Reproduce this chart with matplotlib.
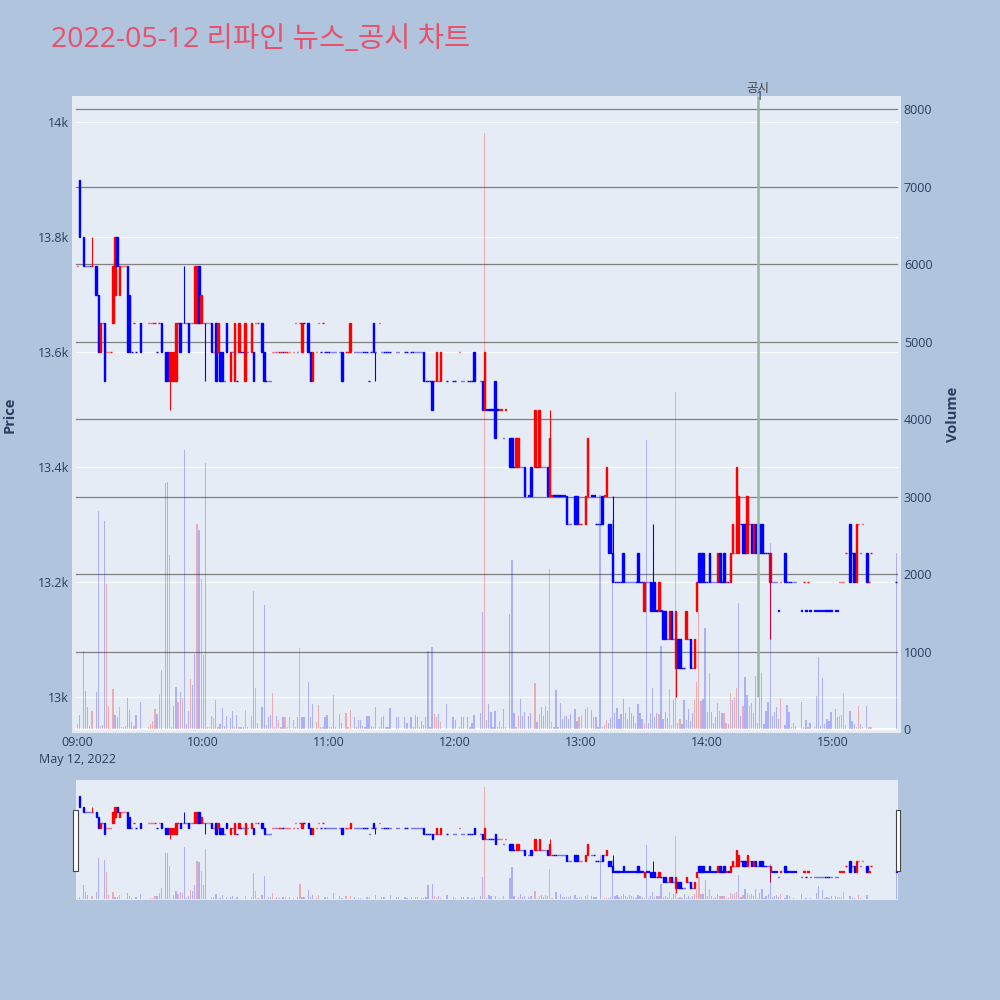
import numpy as np
import pandas as pd
import matplotlib
matplotlib.use("Agg")
import matplotlib.pyplot as plt
import matplotlib.dates as mdates
import matplotlib.transforms as mtransforms
from matplotlib.patches import Rectangle

# ---------------- data ----------------
TITLE = "2022-05-12 리파인 뉴스_공시 차트"
DAY_START = "2022-05-12 09:00"

# minutes after 09:00 for each one-minute candle
minute = [
    0, 1, 3, 4, 5, 6, 7, 9, 10, 11,
    12, 13, 14, 15, 16, 17, 18, 19, 20, 21,
    22, 23, 24, 25, 26, 27, 28, 30, 34, 35,
    36, 37, 38, 39, 40, 42, 43, 44, 45, 46,
    47, 48, 49, 50, 51, 52, 53, 54, 55, 56,
    57, 58, 59, 60, 61, 62, 63, 64, 65, 66,
    67, 68, 69, 70, 71, 73, 74, 75, 76, 77,
    78, 79, 80, 81, 83, 84, 85, 86, 88, 89,
    90, 91, 92, 93, 94, 95, 96, 97, 98, 99,
    100, 101, 103, 104, 105, 106, 107, 108, 110, 111,
    112, 114, 115, 116, 117, 118, 119, 120, 121, 122,
    123, 125, 126, 128, 129, 130, 132, 133, 134, 135,
    136, 137, 138, 139, 140, 141, 142, 144, 145, 146,
    147, 148, 149, 152, 153, 156, 157, 159, 160, 161,
    162, 163, 164, 165, 166, 167, 168, 169, 170, 171,
    172, 173, 176, 179, 180, 182, 183, 184, 186, 187,
    188, 189, 192, 193, 194, 195, 196, 197, 198, 199,
    200, 201, 202, 203, 204, 206, 207, 208, 209, 210,
    211, 212, 213, 215, 216, 218, 219, 220, 221, 222,
    223, 224, 225, 226, 227, 228, 229, 230, 231, 232,
    233, 234, 235, 237, 238, 239, 240, 242, 243, 245,
    246, 247, 248, 249, 250, 251, 252, 253, 254, 255,
    256, 257, 258, 259, 260, 261, 262, 263, 264, 265,
    266, 267, 268, 269, 270, 271, 272, 273, 274, 275,
    276, 277, 278, 279, 280, 281, 282, 283, 284, 285,
    286, 287, 288, 289, 290, 291, 292, 293, 294, 295,
    296, 297, 298, 299, 300, 301, 302, 303, 304, 305,
    306, 307, 308, 309, 310, 311, 312, 313, 314, 315,
    316, 317, 318, 319, 320, 321, 322, 323, 324, 325,
    326, 327, 328, 329, 330, 331, 332, 333, 334, 335,
    337, 338, 339, 340, 341, 342, 345, 346, 347, 348,
    349, 351, 352, 353, 354, 355, 356, 357, 358, 359,
    361, 362, 363, 364, 365, 366, 368, 369, 370, 371,
    372, 373, 374, 376, 377, 378, 390,
]

open_ = [
    13750, 13900, 13800, 13750, 13750, 13750, 13750, 13750, 13700, 13600,
    13650, 13650, 13600, 13600, 13600, 13650, 13700, 13800, 13700, 13750,
    13750, 13750, 13750, 13700, 13600, 13650, 13600, 13650, 13650, 13650,
    13650, 13650, 13600, 13650, 13650, 13600, 13600, 13550, 13550, 13550,
    13550, 13650, 13650, 13650, 13650, 13650, 13650, 13650, 13650, 13650,
    13650, 13750, 13650, 13650, 13650, 13650, 13650, 13650, 13600, 13650,
    13600, 13600, 13600, 13550, 13650, 13550, 13600, 13550, 13550, 13600,
    13600, 13600, 13550, 13600, 13600, 13600, 13650, 13650, 13650, 13600,
    13550, 13550, 13550, 13600, 13600, 13600, 13600, 13600, 13600, 13600,
    13600, 13600, 13600, 13650, 13600, 13650, 13600, 13650, 13650, 13600,
    13550, 13600, 13650, 13600, 13650, 13600, 13600, 13600, 13600, 13600,
    13600, 13600, 13600, 13600, 13600, 13600, 13600, 13600, 13600, 13600,
    13600, 13600, 13600, 13550, 13600, 13650, 13600, 13650, 13600, 13600,
    13600, 13600, 13600, 13600, 13600, 13600, 13600, 13600, 13600, 13600,
    13600, 13600, 13600, 13600, 13550, 13550, 13550, 13550, 13550, 13550,
    13550, 13550, 13550, 13550, 13550, 13600, 13550, 13550, 13550, 13550,
    13550, 13600, 13550, 13550, 13500, 13500, 13500, 13500, 13500, 13550,
    13500, 13500, 13500, 13450, 13500, 13450, 13450, 13400, 13400, 13400,
    13400, 13400, 13400, 13350, 13400, 13400, 13400, 13400, 13400, 13400,
    13400, 13400, 13350, 13350, 13350, 13350, 13350, 13350, 13350, 13350,
    13350, 13300, 13300, 13350, 13350, 13300, 13300, 13300, 13350, 13350,
    13350, 13300, 13300, 13300, 13350, 13350, 13350, 13300, 13300, 13250,
    13200, 13200, 13200, 13200, 13250, 13200, 13200, 13200, 13200, 13200,
    13200, 13250, 13200, 13200, 13150, 13200, 13200, 13200, 13200, 13200,
    13150, 13150, 13150, 13150, 13150, 13100, 13100, 13150, 13100, 13050,
    13100, 13100, 13050, 13050, 13100, 13100, 13100, 13050, 13050, 13150,
    13250, 13250, 13250, 13200, 13200, 13250, 13200, 13200, 13200, 13200,
    13250, 13200, 13250, 13200, 13200, 13200, 13250, 13250, 13250, 13250,
    13300, 13300, 13300, 13250, 13300, 13300, 13250, 13300, 13250, 13300,
    13300, 13250, 13250, 13250, 13200, 13200, 13200, 13200, 13150, 13200,
    13250, 13200, 13200, 13200, 13200, 13200, 13150, 13200, 13150, 13200,
    13150, 13150, 13150, 13150, 13150, 13150, 13150, 13150, 13150, 13150,
    13150, 13150, 13200, 13200, 13200, 13250, 13300, 13250, 13250, 13200,
    13300, 13250, 13300, 13250, 13200, 13250, 13200,
]

high = [
    13750, 13900, 13800, 13750, 13750, 13750, 13800, 13750, 13700, 13650,
    13650, 13650, 13600, 13600, 13600, 13750, 13800, 13800, 13750, 13750,
    13750, 13750, 13750, 13700, 13600, 13650, 13600, 13650, 13650, 13650,
    13650, 13650, 13600, 13650, 13650, 13600, 13600, 13600, 13600, 13600,
    13650, 13650, 13650, 13650, 13750, 13650, 13650, 13650, 13650, 13750,
    13750, 13750, 13700, 13650, 13650, 13650, 13650, 13650, 13600, 13650,
    13650, 13600, 13600, 13550, 13650, 13600, 13600, 13650, 13550, 13650,
    13600, 13600, 13650, 13600, 13650, 13600, 13650, 13650, 13650, 13600,
    13550, 13550, 13550, 13600, 13600, 13600, 13600, 13600, 13600, 13600,
    13600, 13600, 13600, 13650, 13600, 13650, 13650, 13650, 13650, 13600,
    13600, 13600, 13650, 13600, 13650, 13600, 13600, 13600, 13600, 13600,
    13600, 13600, 13600, 13600, 13600, 13650, 13600, 13600, 13600, 13600,
    13600, 13600, 13600, 13550, 13600, 13650, 13600, 13650, 13600, 13600,
    13600, 13600, 13600, 13600, 13600, 13600, 13600, 13600, 13600, 13600,
    13600, 13600, 13600, 13600, 13550, 13550, 13550, 13550, 13550, 13600,
    13550, 13600, 13550, 13550, 13550, 13600, 13550, 13550, 13550, 13550,
    13550, 13600, 13550, 13550, 13600, 13500, 13500, 13500, 13500, 13550,
    13500, 13500, 13500, 13450, 13500, 13450, 13450, 13400, 13450, 13450,
    13400, 13400, 13400, 13350, 13400, 13500, 13400, 13500, 13400, 13400,
    13400, 13400, 13500, 13350, 13350, 13350, 13350, 13350, 13350, 13350,
    13350, 13300, 13300, 13350, 13350, 13300, 13300, 13350, 13450, 13350,
    13350, 13300, 13300, 13300, 13350, 13350, 13400, 13300, 13300, 13350,
    13200, 13200, 13200, 13200, 13250, 13200, 13200, 13200, 13200, 13200,
    13200, 13250, 13200, 13200, 13200, 13200, 13200, 13200, 13300, 13200,
    13150, 13200, 13150, 13150, 13150, 13100, 13150, 13150, 13100, 13150,
    13100, 13100, 13050, 13050, 13150, 13100, 13100, 13050, 13100, 13200,
    13250, 13250, 13250, 13200, 13200, 13250, 13200, 13200, 13200, 13250,
    13250, 13200, 13250, 13200, 13200, 13250, 13300, 13250, 13400, 13350,
    13300, 13300, 13300, 13350, 13300, 13300, 13300, 13300, 13250, 13300,
    13300, 13250, 13250, 13250, 13250, 13200, 13200, 13200, 13150, 13200,
    13250, 13200, 13200, 13200, 13200, 13200, 13150, 13200, 13150, 13200,
    13150, 13150, 13150, 13150, 13150, 13150, 13150, 13150, 13150, 13150,
    13150, 13150, 13200, 13200, 13200, 13250, 13300, 13250, 13250, 13300,
    13300, 13250, 13300, 13250, 13200, 13250, 13200,
]

low = [
    13750, 13800, 13750, 13750, 13750, 13750, 13750, 13700, 13600, 13600,
    13650, 13550, 13600, 13600, 13600, 13650, 13700, 13750, 13700, 13750,
    13750, 13750, 13600, 13600, 13600, 13650, 13600, 13600, 13650, 13650,
    13650, 13650, 13600, 13650, 13600, 13550, 13550, 13500, 13550, 13550,
    13550, 13650, 13600, 13650, 13650, 13650, 13600, 13650, 13650, 13650,
    13650, 13650, 13650, 13650, 13550, 13650, 13650, 13600, 13600, 13550,
    13600, 13550, 13550, 13550, 13600, 13550, 13600, 13550, 13550, 13600,
    13600, 13600, 13550, 13600, 13600, 13550, 13650, 13650, 13600, 13550,
    13550, 13550, 13550, 13600, 13600, 13600, 13600, 13600, 13600, 13600,
    13600, 13600, 13600, 13650, 13600, 13650, 13600, 13650, 13600, 13550,
    13550, 13600, 13650, 13600, 13650, 13600, 13600, 13600, 13600, 13600,
    13600, 13600, 13550, 13600, 13600, 13600, 13600, 13600, 13600, 13600,
    13600, 13600, 13600, 13550, 13600, 13600, 13550, 13650, 13600, 13600,
    13600, 13600, 13600, 13600, 13600, 13600, 13600, 13600, 13600, 13600,
    13600, 13600, 13600, 13550, 13550, 13550, 13550, 13500, 13550, 13550,
    13550, 13550, 13550, 13550, 13550, 13600, 13550, 13550, 13550, 13550,
    13550, 13550, 13550, 13500, 13500, 13500, 13500, 13500, 13500, 13450,
    13500, 13500, 13500, 13450, 13500, 13400, 13400, 13400, 13400, 13400,
    13400, 13400, 13350, 13350, 13350, 13400, 13400, 13400, 13400, 13400,
    13400, 13350, 13350, 13350, 13350, 13350, 13350, 13350, 13350, 13350,
    13300, 13300, 13300, 13300, 13300, 13300, 13300, 13300, 13350, 13350,
    13350, 13300, 13300, 13300, 13300, 13350, 13350, 13250, 13250, 13200,
    13200, 13200, 13200, 13200, 13200, 13200, 13200, 13200, 13200, 13200,
    13200, 13200, 13200, 13200, 13150, 13200, 13200, 13150, 13150, 13150,
    13150, 13150, 13150, 13100, 13100, 13100, 13100, 13100, 13100, 13000,
    13050, 13050, 13050, 13050, 13100, 13100, 13050, 13050, 13050, 13150,
    13200, 13200, 13200, 13200, 13200, 13200, 13200, 13200, 13200, 13200,
    13200, 13200, 13200, 13200, 13200, 13200, 13250, 13250, 13250, 13250,
    13300, 13250, 13250, 13250, 13300, 13250, 13250, 13250, 13250, 13250,
    13250, 13250, 13250, 13250, 13100, 13200, 13200, 13200, 13150, 13200,
    13200, 13200, 13200, 13200, 13200, 13200, 13150, 13200, 13150, 13200,
    13150, 13150, 13150, 13150, 13150, 13150, 13150, 13150, 13150, 13150,
    13150, 13150, 13200, 13200, 13200, 13250, 13200, 13250, 13200, 13200,
    13300, 13250, 13300, 13200, 13200, 13250, 13200,
]

close = [
    13750, 13800, 13750, 13750, 13750, 13750, 13750, 13700, 13600, 13650,
    13650, 13550, 13600, 13600, 13600, 13750, 13800, 13750, 13750, 13750,
    13750, 13750, 13600, 13600, 13600, 13650, 13600, 13600, 13650, 13650,
    13650, 13650, 13600, 13650, 13600, 13550, 13550, 13600, 13600, 13600,
    13650, 13650, 13600, 13650, 13650, 13650, 13600, 13650, 13650, 13750,
    13750, 13650, 13700, 13650, 13650, 13650, 13650, 13600, 13600, 13550,
    13650, 13550, 13550, 13550, 13600, 13600, 13600, 13650, 13550, 13650,
    13600, 13600, 13650, 13600, 13650, 13550, 13650, 13650, 13600, 13550,
    13550, 13550, 13550, 13600, 13600, 13600, 13600, 13600, 13600, 13600,
    13600, 13600, 13600, 13650, 13600, 13650, 13650, 13650, 13600, 13550,
    13600, 13600, 13650, 13600, 13650, 13600, 13600, 13600, 13600, 13600,
    13600, 13600, 13550, 13600, 13600, 13650, 13600, 13600, 13600, 13600,
    13600, 13600, 13600, 13550, 13600, 13600, 13600, 13650, 13600, 13600,
    13600, 13600, 13600, 13600, 13600, 13600, 13600, 13600, 13600, 13600,
    13600, 13600, 13600, 13550, 13550, 13550, 13550, 13500, 13550, 13600,
    13550, 13600, 13550, 13550, 13550, 13600, 13550, 13550, 13550, 13550,
    13550, 13550, 13550, 13500, 13600, 13500, 13500, 13500, 13500, 13450,
    13500, 13500, 13500, 13450, 13500, 13400, 13400, 13400, 13450, 13450,
    13400, 13400, 13350, 13350, 13350, 13500, 13400, 13500, 13400, 13400,
    13400, 13350, 13450, 13350, 13350, 13350, 13350, 13350, 13350, 13350,
    13300, 13300, 13300, 13300, 13300, 13300, 13300, 13350, 13450, 13350,
    13350, 13300, 13300, 13300, 13300, 13350, 13400, 13250, 13250, 13200,
    13200, 13200, 13200, 13200, 13200, 13200, 13200, 13200, 13200, 13200,
    13200, 13200, 13200, 13200, 13200, 13200, 13200, 13150, 13150, 13150,
    13150, 13200, 13150, 13100, 13100, 13100, 13150, 13100, 13100, 13150,
    13050, 13050, 13050, 13050, 13150, 13100, 13050, 13050, 13100, 13200,
    13200, 13200, 13200, 13200, 13200, 13200, 13200, 13200, 13200, 13250,
    13200, 13200, 13200, 13200, 13200, 13250, 13300, 13250, 13400, 13350,
    13300, 13250, 13250, 13350, 13300, 13250, 13300, 13250, 13250, 13250,
    13250, 13250, 13250, 13250, 13250, 13200, 13200, 13200, 13150, 13200,
    13200, 13200, 13200, 13200, 13200, 13200, 13150, 13200, 13150, 13200,
    13150, 13150, 13150, 13150, 13150, 13150, 13150, 13150, 13150, 13150,
    13150, 13150, 13200, 13200, 13200, 13250, 13200, 13250, 13200, 13300,
    13300, 13250, 13300, 13200, 13200, 13250, 13200,
]

volume = [
    65, 180, 1010, 495, 280, 40, 237, 480, 2810, 40,
    50, 2690, 1870, 297, 15, 520, 176, 160, 290, 20,
    20, 40, 404, 245, 95, 40, 176, 352, 20, 65,
    103, 254, 190, 447, 761, 3170, 3190, 2245, 30, 297,
    546, 352, 473, 404, 3600, 65, 237, 650, 568, 972,
    2650, 2575, 1930, 955, 3440, 30, 30, 168, 142, 374,
    30, 65, 267, 39, 168, 138, 237, 20, 176, 30,
    30, 20, 245, 20, 168, 1785, 533, 82, 280, 1600,
    47, 159, 180, 460, 30, 168, 116, 30, 150, 150,
    30, 159, 116, 30, 159, 1040, 159, 159, 602, 159,
    322, 95, 305, 30, 30, 159, 185, 30, 30, 439,
    30, 193, 73, 210, 30, 245, 159, 30, 116, 116,
    39, 30, 168, 168, 39, 30, 288, 30, 159, 168,
    30, 30, 275, 159, 150, 159, 82, 159, 30, 180,
    159, 30, 108, 52, 159, 1010, 30, 1053, 193, 150,
    193, 95, 318, 159, 116, 30, 159, 159, 159, 30,
    73, 185, 202, 1513, 7700, 116, 322, 224, 30, 237,
    30, 100, 30, 254, 30, 1490, 2180, 202, 30, 168,
    383, 168, 224, 168, 210, 589, 95, 189, 288, 168,
    297, 237, 2065, 95, 30, 499, 30, 331, 125, 168,
    172, 125, 193, 258, 108, 159, 180, 254, 288, 245,
    159, 159, 30, 3020, 30, 52, 116, 82, 138, 2700,
    202, 267, 125, 193, 383, 210, 125, 288, 202, 168,
    82, 322, 202, 125, 73, 3730, 82, 210, 525, 159,
    210, 193, 1070, 133, 224, 138, 516, 52, 374, 4350,
    73, 125, 65, 374, 116, 254, 108, 202, 374, 610,
    1513, 365, 383, 1300, 224, 718, 224, 73, 159, 331,
    237, 210, 202, 73, 65, 460, 374, 417, 525, 1630,
    168, 297, 675, 443, 297, 331, 210, 684, 82, 396,
    718, 65, 237, 352, 2400, 168, 224, 288, 125, 387,
    52, 305, 219, 30, 73, 39, 353, 30, 116, 30,
    73, 30, 425, 933, 39, 654, 65, 125, 99, 215,
    254, 159, 168, 181, 469, 47, 232, 103, 65, 30,
    301, 65, 30, 297, 26, 30, 2270,
]

# 1 = red (up) volume bar / flat candle, 0 = blue (down)
vol_up = [
    1, 0, 0, 0, 0, 0, 1, 0, 0, 1,
    0, 0, 1, 1, 1, 1, 0, 0, 1, 1,
    1, 1, 0, 0, 0, 1, 0, 0, 1, 1,
    1, 1, 0, 1, 0, 0, 0, 1, 1, 0,
    0, 1, 0, 1, 0, 0, 0, 1, 0, 0,
    1, 0, 1, 0, 0, 1, 1, 0, 1, 0,
    1, 0, 0, 0, 0, 0, 0, 1, 0, 1,
    0, 0, 1, 0, 1, 0, 1, 1, 0, 0,
    0, 0, 0, 1, 1, 0, 1, 1, 0, 1,
    1, 1, 1, 1, 0, 1, 0, 0, 0, 0,
    0, 1, 1, 0, 1, 0, 0, 0, 0, 0,
    0, 0, 0, 1, 1, 1, 0, 0, 0, 0,
    0, 0, 0, 0, 0, 0, 0, 1, 0, 0,
    0, 0, 0, 0, 0, 0, 0, 0, 0, 0,
    0, 0, 0, 0, 0, 0, 0, 0, 1, 1,
    0, 1, 0, 0, 0, 1, 0, 0, 0, 0,
    0, 0, 0, 0, 1, 0, 0, 0, 0, 0,
    0, 1, 1, 0, 1, 0, 0, 0, 1, 1,
    0, 0, 0, 0, 0, 1, 0, 1, 0, 0,
    1, 0, 1, 1, 0, 0, 0, 0, 0, 0,
    0, 0, 0, 0, 0, 1, 1, 0, 1, 0,
    0, 0, 0, 0, 0, 1, 1, 0, 0, 0,
    0, 0, 0, 0, 0, 0, 0, 0, 0, 0,
    0, 0, 0, 0, 1, 0, 0, 0, 0, 0,
    0, 1, 0, 0, 0, 0, 1, 1, 0, 1,
    0, 1, 0, 0, 0, 0, 0, 0, 1, 1,
    1, 1, 0, 0, 0, 1, 0, 0, 0, 0,
    1, 0, 1, 1, 0, 1, 0, 1, 1, 0,
    0, 1, 0, 0, 1, 0, 0, 0, 0, 0,
    0, 0, 0, 0, 0, 0, 0, 0, 0, 1,
    0, 0, 0, 0, 0, 0, 0, 1, 0, 1,
    0, 0, 0, 0, 0, 0, 0, 0, 0, 0,
    0, 0, 1, 1, 1, 1, 0, 0, 0, 1,
    1, 0, 1, 0, 1, 1, 0,
]

VLINE_TIME = "2022-05-12 14:24"
VLINE_TEXT = "공시"
VLINE_NUM = "1"
VLINE_BOTTOM = 13000

price_ticks = [13000, 13200, 13400, 13600, 13800, 14000]
price_tick_labels = ["13k", "13.2k", "13.4k", "13.6k", "13.8k", "14k"]
volume_ticks = [0, 1000, 2000, 3000, 4000, 5000, 6000, 7000, 8000]
time_ticks = ["09:00", "10:00", "11:00", "12:00", "13:00", "14:00", "15:00"]
date_label = "May 12, 2022"

n = len(minute)
for name, lst in [("open", open_), ("high", high), ("low", low), ("close", close),
                  ("volume", volume), ("vol_up", vol_up)]:
    assert len(lst) == n, (name, len(lst), n)

# ---------------- style ----------------
plt.rcParams["font.family"] = ["Open Sans", "Noto Sans CJK KR", "DejaVu Sans"]
PAPER = "#B0C4DE"
PLOTBG = "#E5ECF6"
TXT = "#2a3f5f"
RED = "#FF0000"
BLUE = "#0000FF"

base = pd.Timestamp(DAY_START)
times = base + pd.to_timedelta(minute, unit="m")
xs = mdates.date2num(times.to_pydatetime())
MIN = 1.0 / 1440.0

o = np.array(open_, float); h = np.array(high, float)
l = np.array(low, float); c = np.array(close, float)
v = np.array(volume, float); up = np.array(vol_up, int)

cand_col = np.where(c > o, RED, np.where(c < o, BLUE, np.where(up == 1, RED, BLUE)))
vol_col = [(1, 0, 0, 0.28) if u else (0, 0, 1, 0.25) for u in up]

P_LIM = (12937, 14046)
V_LIM = (-52, 8172)


def draw_series(axp, axv, body_w, body_lw, wick_lw, vol_w):
    axp.vlines(xs, l, h, colors=cand_col, linewidth=wick_lw, zorder=3)
    heights = np.maximum(np.abs(c - o), 0.5)
    bottoms = np.minimum(o, c)
    axp.bar(xs, heights, width=body_w * MIN, bottom=bottoms, color=cand_col,
            edgecolor=cand_col, linewidth=body_lw, zorder=4, align="center")
    axv.bar(xs, v, width=vol_w * MIN, color=vol_col, linewidth=0, zorder=2,
            align="center")


fig = plt.figure(figsize=(10, 10), dpi=100, facecolor=PAPER)

# main panel
ax_p = fig.add_axes([0.072, 0.267, 0.829, 0.637])
ax_p.set_facecolor(PLOTBG)
ax_v = ax_p.twinx()
ax_v.set_zorder(ax_p.get_zorder() + 1)
ax_v.patch.set_visible(False)

draw_series(ax_p, ax_v, 0.7, 1.0, 0.8, 0.6)

x0 = mdates.date2num((base - pd.Timedelta(minutes=2.5)).to_pydatetime())
x1 = mdates.date2num((base + pd.Timedelta(minutes=392.3)).to_pydatetime())
ax_p.set_xlim(x0, x1)
ax_p.set_ylim(*P_LIM)
ax_v.set_ylim(*V_LIM)

# grid lines (drawn under the candles)
f0, f1 = 4 / 829, 825 / 829
tr_p = mtransforms.blended_transform_factory(ax_p.transAxes, ax_p.transData)
tr_v = mtransforms.blended_transform_factory(ax_p.transAxes, ax_v.transData)
for p in price_ticks:
    ax_p.plot([f0, f1], [p, p], transform=tr_p, color="white", lw=0.8, zorder=1)
for vt in volume_ticks[1:]:
    ax_p.plot([f0, f1], [vt, vt], transform=tr_v, color="#808080", lw=0.9, zorder=1.5)
ax_p.plot([f0, f1], [0, 0], transform=tr_v, color="white", lw=1.6, zorder=1.5)

# vertical disclosure line
vt_x = mdates.date2num(pd.Timestamp(VLINE_TIME).to_pydatetime())
ax_p.vlines([vt_x], VLINE_BOTTOM, P_LIM[1], colors="#93b8a0", linewidth=1.8, zorder=6)
tr_lab = mtransforms.blended_transform_factory(ax_p.transData, fig.transFigure)
ax_v.text(vt_x, 0.9115, VLINE_TEXT, transform=tr_lab, ha="center", va="center",
          fontsize=9, color="#444444", family=["Noto Sans CJK KR", "DejaVu Sans"],
          clip_on=False, zorder=20)
tr_num = mtransforms.offset_copy(tr_lab, fig=fig, x=1.5, y=0, units="dots")
ax_v.text(vt_x, 0.9040, VLINE_NUM, transform=tr_num, ha="center", va="center",
          fontsize=9.5, color="#2a3f5f", clip_on=False, zorder=21)

# axes ticks
tick_nums = [mdates.date2num(pd.Timestamp(f"2022-05-12 {t}").to_pydatetime()) for t in time_ticks]
labels = [time_ticks[0] + "\n" + date_label] + time_ticks[1:]
ax_p.set_xticks(tick_nums)
ax_p.set_xticklabels(labels, linespacing=1.4)
ax_p.tick_params(axis="x", length=0, pad=2, labelsize=9, labelcolor=TXT)
ax_p.set_yticks(price_ticks)
ax_p.set_yticklabels(price_tick_labels)
ax_p.tick_params(axis="y", length=0, pad=2, labelsize=9, labelcolor=TXT)
ax_v.set_yticks(volume_ticks)
ax_v.set_yticklabels([str(t) for t in volume_ticks])
ax_v.tick_params(axis="y", length=0, pad=2, labelsize=9, labelcolor=TXT)
for a in (ax_p, ax_v):
    for s in a.spines.values():
        s.set_visible(False)

fig.text(0.010, 0.5855, "Price", rotation=90, ha="center", va="center",
         fontsize=10.5, fontweight="bold", color=TXT)
fig.text(0.953, 0.5855, "Volume", rotation=90, ha="center", va="center",
         fontsize=10.5, fontweight="bold", color=TXT)

fig.text(0.051, 0.960, TITLE, ha="left", va="center", fontsize=20.5, color="#E9506A",
         family=["Open Sans", "Noto Sans CJK KR", "DejaVu Sans"])

# range slider
ax_sp = fig.add_axes([0.076, 0.100, 0.822, 0.120])
ax_sp.set_facecolor(PLOTBG)
ax_sv = ax_sp.twinx()
ax_sv.patch.set_visible(False)
draw_series(ax_sp, ax_sv, 0.6, 1.0, 0.7, 0.6)
sx0 = mdates.date2num((base - pd.Timedelta(minutes=0.6)).to_pydatetime())
sx1 = mdates.date2num((base + pd.Timedelta(minutes=390.8)).to_pydatetime())
ax_sp.set_xlim(sx0, sx1)
ax_sp.set_ylim(*P_LIM)
ax_sv.set_ylim(*V_LIM)
for a in (ax_sp, ax_sv):
    a.set_xticks([]); a.set_yticks([])
    for s in a.spines.values():
        s.set_visible(False)

for hx in (0.0733, 0.8955):
    fig.patches.append(Rectangle((hx, 0.1293), 0.0047, 0.0607, transform=fig.transFigure,
                                 facecolor="white", edgecolor="#444444", linewidth=0.8))

fig.savefig("out.png", dpi=100, facecolor=PAPER)
